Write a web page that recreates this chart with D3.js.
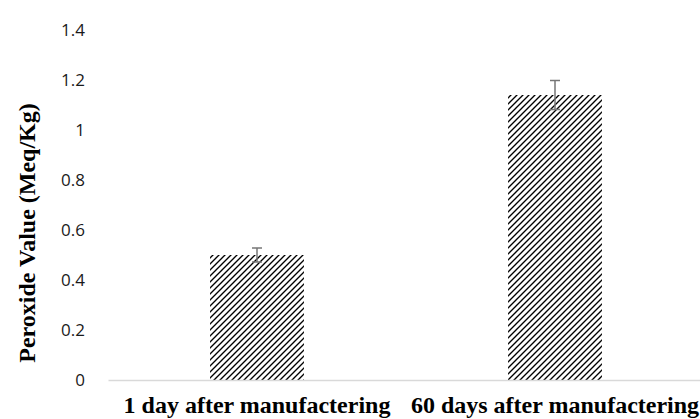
<!DOCTYPE html>
<html>
<head>
<meta charset="utf-8">
<script src="https://cdn.jsdelivr.net/npm/d3@7"></script>
<style>
  body { margin: 0; background: #fff; }
  svg { display: block; }
</style>
</head>
<body>
<svg id="chart"></svg>
<script>
const categories = ['1 day after manufactering', '60 days after manufactering'];
const values = [0.5, 1.14];
const errors = [0.028, 0.058];
const yTicks = [0, 0.2, 0.4, 0.6, 0.8, 1, 1.2, 1.4];

const width = 700;
const height = 419;
const margin = { top: 30, right: -4, bottom: 39, left: 108 };

const svg = d3.select('#chart')
  .attr('width', width)
  .attr('height', height);

// hatch pattern like Excel's wide upward diagonal
const defs = svg.append('defs');
const pat = defs.append('pattern')
  .attr('id', 'hatch')
  .attr('patternUnits', 'userSpaceOnUse')
  .attr('width', 6)
  .attr('height', 6);
pat.append('rect').attr('width', 6).attr('height', 6).attr('fill', '#fff');
pat.append('path')
  .attr('d', 'M-1,1 l2,-2 M0,6 l6,-6 M5,7 l2,-2')
  .attr('stroke', '#000')
  .attr('stroke-width', 1.35);

const g = svg.append('g')
  .attr('transform', `translate(${margin.left},${margin.top})`);

const innerW = width - margin.left - margin.right;
const innerH = height - margin.top - margin.bottom;

const x = d3.scaleBand()
  .domain(categories)
  .range([0, innerW])
  .paddingInner(0.685)
  .paddingOuter(0.3425);

const y = d3.scaleLinear()
  .domain([0, 1.4])
  .range([innerH, 0]);

// y tick labels only, no axis line
const yAxis = d3.axisLeft(y).tickValues(yTicks).tickSize(0).tickPadding(23)
  .tickFormat((d) => d3.format('')(d));
const gy = g.append('g').call(yAxis);
gy.select('.domain').remove();
gy.selectAll('text')
  .attr('font-family', '"Open Sans", "Noto Sans", sans-serif')
  .attr('font-size', 17)
  .attr('fill', '#1a1a1a');

// bars
g.selectAll('rect.bar')
  .data(values)
  .join('rect')
  .attr('class', 'bar')
  .attr('x', (d, i) => x(categories[i]))
  .attr('width', x.bandwidth())
  .attr('y', (d) => y(d))
  .attr('height', (d) => innerH - y(d))
  .attr('fill', 'url(#hatch)');

// baseline
const xAxis = d3.axisBottom(x).tickSize(0).tickPadding(16);
const gx = g.append('g')
  .attr('transform', `translate(0,${innerH})`)
  .call(xAxis);
gx.select('.domain').attr('stroke', '#d9d9d9').attr('stroke-width', 1.3);
gx.selectAll('text')
  .attr('font-family', '"Liberation Serif", "Times New Roman", serif')
  .attr('font-weight', 'bold')
  .attr('font-size', 24)
  .attr('fill', '#000');

// error bars
const err = g.selectAll('g.err')
  .data(values)
  .join('g')
  .attr('class', 'err')
  .attr('stroke', '#767676')
  .attr('stroke-width', 1.5);
const cx = (i) => x(categories[i]) + x.bandwidth() / 2;
err.append('line')
  .attr('x1', (d, i) => cx(i)).attr('x2', (d, i) => cx(i))
  .attr('y1', (d, i) => y(d + errors[i])).attr('y2', (d, i) => y(d - errors[i]));
err.append('line')
  .attr('x1', (d, i) => cx(i) - 5).attr('x2', (d, i) => cx(i) + 5)
  .attr('y1', (d, i) => y(d + errors[i])).attr('y2', (d, i) => y(d + errors[i]));
err.append('line')
  .attr('x1', (d, i) => cx(i) - 5).attr('x2', (d, i) => cx(i) + 5)
  .attr('y1', (d, i) => y(d - errors[i])).attr('y2', (d, i) => y(d - errors[i]));

// y axis title
svg.append('text')
  .attr('transform', `translate(35,233) rotate(-90)`)
  .attr('text-anchor', 'middle')
  .attr('font-family', '"Liberation Serif", "Times New Roman", serif')
  .attr('font-weight', 'bold')
  .attr('font-size', 24)
  .text('Peroxide Value (Meq/Kg)');
</script>
</body>
</html>
